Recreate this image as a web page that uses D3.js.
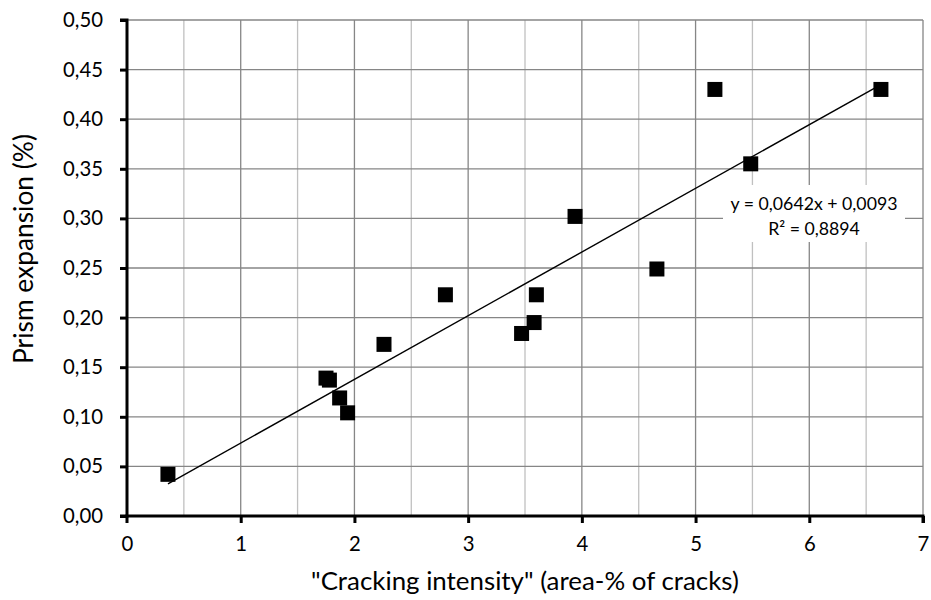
<!DOCTYPE html>
<html><head><meta charset="utf-8">
<script src="https://cdn.jsdelivr.net/npm/d3@7/dist/d3.min.js"></script>
<style>body{margin:0;background:#fff}svg{display:block}text{font-family:Lato,"Open Sans",sans-serif;fill:#000}</style>
</head><body><svg id="c" width="931" height="600"></svg>
<script>
const crackingIntensity = [0.36, 1.75, 1.78, 1.87, 1.94, 2.26, 2.80, 3.47, 3.58, 3.60, 3.94, 4.66, 5.17, 5.485, 6.63];
const prismExpansion   = [0.042, 0.139, 0.137, 0.119, 0.104, 0.173, 0.223, 0.184, 0.195, 0.223, 0.302, 0.249, 0.430, 0.355, 0.430];
const xTicks = [0,1,2,3,4,5,6,7];
const yTicks = [0,0.05,0.10,0.15,0.20,0.25,0.30,0.35,0.40,0.45,0.50];
const trendSlope = 0.0642, trendIntercept = 0.0093;
const equationLines = ["y = 0,0642x + 0,0093", "R² = 0,8894"];
const xTitle = "\"Cracking intensity\" (area-% of cracks)";
const yTitle = "Prism expansion (%)";

const svg = d3.select("#c");
const L=127, R=923, T=20, B=516;
const x = d3.scaleLinear().domain([0,7]).range([L,R]);
const y = d3.scaleLinear().domain([0,0.5]).range([B,T]);
const fmt = d => d.toFixed(2).replace(".", ",");

function fitSize(str, target) {
  const t = svg.append("text").style("font-size","20px").text(str);
  const w = t.node().getComputedTextLength();
  t.remove();
  return 20 * target / w;
}
const tickSize = fitSize("0,50", 40);
const titleSizeX = fitSize(xTitle, 428);
const titleSizeY = fitSize(yTitle, 230);
const eqSize = fitSize(equationLines[0], 167);

// grid
const g = svg.append("g");
const halfX = d3.range(0.5,7,1);
g.selectAll(".vh").data(halfX).join("line")
  .attr("x1",d=>x(d)).attr("x2",d=>x(d)).attr("y1",T).attr("y2",B)
  .attr("stroke","#c0c0c0").attr("stroke-width",1.3);
g.selectAll(".vi").data(xTicks.slice(1)).join("line")
  .attr("x1",d=>x(d)).attr("x2",d=>x(d)).attr("y1",T).attr("y2",B)
  .attr("stroke","#868686").attr("stroke-width",1.3);
g.selectAll(".hy").data(yTicks.slice(1)).join("line")
  .attr("x1",L).attr("x2",R).attr("y1",d=>y(d)).attr("y2",d=>y(d))
  .attr("stroke","#868686").attr("stroke-width",1.3);

// trend line
const xMin = d3.min(crackingIntensity), xMax = d3.max(crackingIntensity);
svg.append("line")
  .attr("x1",x(xMin)).attr("y1",y(trendSlope*xMin+trendIntercept))
  .attr("x2",x(xMax)).attr("y2",y(trendSlope*xMax+trendIntercept))
  .attr("stroke","#000").attr("stroke-width",1.4);

// points
const pts = crackingIntensity.map((v,i)=>[v,prismExpansion[i]]);
const s = 15;
svg.selectAll(".p").data(pts).join("rect")
  .attr("x",d=>x(d[0])-s/2).attr("y",d=>y(d[1])-s/2)
  .attr("width",s).attr("height",s).attr("fill","#000");

// equation label
const lab = svg.append("g");
lab.append("rect").attr("x",723).attr("y",185).attr("width",182).attr("height",57).attr("fill","#fff");
lab.selectAll("text").data(equationLines).join("text")
  .attr("x",814).attr("y",(d,i)=>210+i*25).attr("text-anchor","middle")
  .style("font-size",eqSize+"px").text(d=>d);

// axes
const xAxis = d3.axisBottom(x).tickValues(xTicks).tickSize(7).tickPadding(14).tickFormat(d3.format("d"));
const yAxis = d3.axisLeft(y).tickValues(yTicks).tickSize(7).tickPadding(17).tickFormat(fmt);
const ax = svg.append("g").attr("transform",`translate(0,${B})`).call(xAxis);
const ay = svg.append("g").attr("transform",`translate(${L},0)`).call(yAxis);
[ax,ay].forEach(a=>{
  a.select(".domain").attr("stroke","#000").attr("stroke-width",3);
  a.selectAll(".tick line").attr("stroke","#000").attr("stroke-width",3);
  a.selectAll(".tick text").style("font-family","Lato,'Open Sans',sans-serif").style("font-size",tickSize+"px").attr("fill","#000");
});
ax.select(".domain").attr("d",`M${L},7V0H${R}V7`);
ay.select(".domain").attr("d",`M-7,${B}H0V${T}H-7`);
ax.selectAll(".tick").filter(d=>d===0).select("line").remove();

svg.append("text").attr("x",(L+R)/2).attr("y",590).attr("text-anchor","middle")
  .style("font-size",titleSizeX+"px").text(xTitle);
svg.append("text").attr("transform",`translate(33,249) rotate(-90)`).attr("text-anchor","middle")
  .style("font-size",titleSizeY+"px").text(yTitle);
</script></body></html>
